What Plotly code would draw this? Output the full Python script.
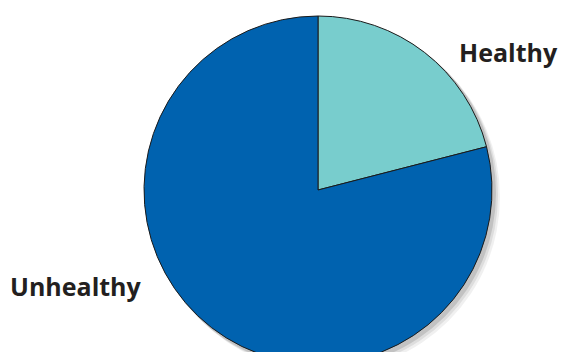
import plotly.graph_objects as go

categories = ["Healthy", "Unhealthy"]
values = [21, 79]
colors = ["#78CDCD", "#0062AF"]

W, H = 563, 385
cx, cy, r = 318, 190, 174

def dom(cx, cy, r):
    return dict(x=[(cx - r) / W, (cx + r) / W], y=[1 - (cy + r) / H, 1 - (cy - r) / H])

fig = go.Figure()

# soft drop shadow (decorative)
for off, op in [(7, 0.06), (5, 0.08), (3, 0.12)]:
    fig.add_trace(go.Pie(values=[1], labels=["s"], domain=dom(cx + off, cy + off, r + 1),
                         marker=dict(colors=["rgba(0,0,0,%s)" % op], line=dict(width=0)),
                         textinfo="none", hoverinfo="skip", showlegend=False, sort=False))

fig.add_trace(go.Pie(
    labels=categories, values=values, sort=False, direction="clockwise", rotation=0,
    marker=dict(colors=colors, line=dict(color="#1a1a1a", width=1)),
    textinfo="none", showlegend=False, domain=dom(cx, cy, r),
))

fig.add_annotation(x=508 / W, y=1 - 52 / H, xref="paper", yref="paper", text="<b>%s</b>" % categories[0],
                   xanchor="center", yanchor="middle", showarrow=False,
                   font=dict(family="Open Sans", size=25, color="#231f20"))
fig.add_annotation(x=76 / W, y=1 - 286 / H, xref="paper", yref="paper", text="<b>%s</b>" % categories[1],
                   xanchor="center", yanchor="middle", showarrow=False,
                   font=dict(family="Open Sans", size=25, color="#231f20"))

fig.update_layout(width=W, height=H, margin=dict(l=0, r=0, t=0, b=0),
                  paper_bgcolor="white", plot_bgcolor="white")

fig.write_html("out.html", post_script="document.body.style.overflow='hidden';document.body.style.margin='0';")
